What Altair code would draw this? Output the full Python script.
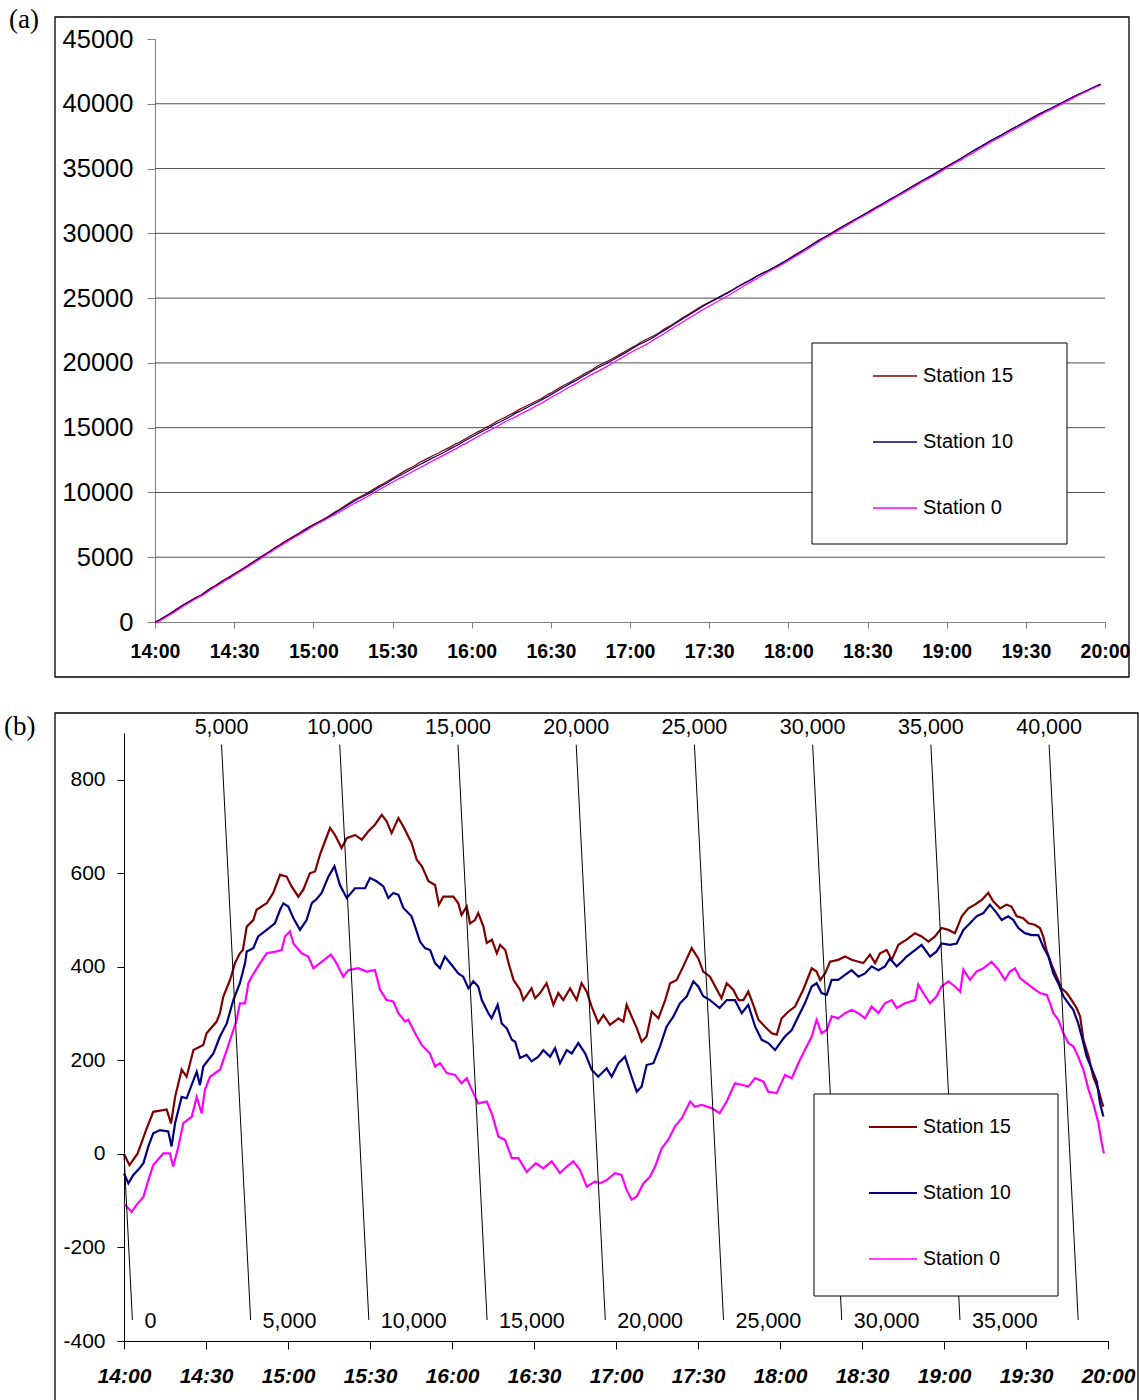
import altair as alt
import pandas as pd

# ---------------------------------------------------------------------------
# Data: oblique (detrended) cumulative counts, vehicles, read per station.
# Time is minutes after 14:00.
# ---------------------------------------------------------------------------
STATIONS = ["Station 15", "Station 10", "Station 0"]
COLORS = ["#800000", "#000080", "#FF00FF"]

S15_T = [0, 2, 5, 8, 10.7, 15.6, 17.2, 18.7, 21.1, 22.9,
         25.4, 29, 30.2, 33.9, 35.1, 36.3, 38.8, 40.6, 42.4, 43.5,
         44.9, 47.3, 48.5, 52.2, 54.6, 57.1, 59.5, 61.3, 63.8, 65.6,
         68, 69.9, 71.7, 73.5, 75.4, 77.2, 79.6, 81.5, 84.5, 87,
         89.4, 91.8, 94.3, 96.1, 97.9, 100.4, 102.2, 105.2, 107.1, 109,
         111.4, 113.8, 115.2, 116.8, 120.5, 122.3, 123.5, 125.4, 126.6, 128.4,
         129.6, 131.5, 132.7, 134.6, 136.4, 137.6, 139.5, 140.7, 142.5, 144.9,
         146.1, 149.1, 150.4, 152.2, 154.6, 157.1, 158.9, 160.7, 163.2, 165.6,
         167.4, 169.3, 171.1, 173.5, 175.4, 177.8, 180.9, 182.7, 183.9, 185.7,
         187.6, 189.4, 191.2, 193.1, 195.5, 198, 199.8, 202.2, 204.6, 207.7,
         210.1, 211.9, 214.4, 218.6, 220.5, 222.9, 224.8, 226.6, 228.4, 230.2,
         232.1, 234.5, 237, 238.8, 240.6, 243, 245.5, 248.5, 251.6, 253.4,
         254.7, 256.5, 258.3, 261.3, 263.8, 266.2, 268.7, 270.5, 272.9, 274.8,
         276.6, 279, 280.9, 283.3, 286.3, 289.4, 291.8, 294.3, 296.7, 299.1,
         301.6, 304, 306.5, 308.9, 311.3, 313.8, 316.2, 318, 320.5, 322.9,
         324.7, 326.6, 329, 330.9, 333.2, 335.1, 336.3, 337.5, 339.4, 341.2,
         343, 344.9, 346.7, 348.5, 349.8, 351, 352.9, 354.6, 356.5, 357.7,
         358.3]
S15_V = [0, -24, 1, 50, 90, 95, 65, 122, 180, 165,
         222, 233, 258, 283, 301, 336, 372, 408, 429, 436,
         486, 500, 522, 536, 558, 597, 593, 572, 550, 565,
         600, 604, 640, 668, 697, 682, 654, 675, 682, 672,
         690, 704, 725, 711, 686, 718, 700, 665, 629, 615,
         583, 575, 533, 550, 550, 536, 511, 529, 493, 500,
         515, 486, 451, 458, 429, 447, 436, 408, 372, 351,
         329, 354, 333, 344, 365, 319, 344, 329, 354, 329,
         365, 347, 315, 280, 297, 276, 290, 283, 319, 294,
         269, 240, 251, 304, 290, 329, 365, 372, 401, 440,
         418, 390, 379, 333, 365, 351, 329, 329, 347, 319,
         287, 272, 258, 255, 290, 304, 315, 351, 397, 390,
         372, 386, 411, 415, 422, 415, 411, 408, 426, 408,
         429, 436, 415, 447, 458, 472, 465, 454, 465, 483,
         479, 472, 508, 525, 533, 543, 558, 540, 525, 533,
         529, 508, 504, 493, 490, 483, 465, 436, 404, 379,
         354, 344, 329, 312, 294, 244, 208, 165, 137, 112,
         101]

S10_T = [0, 1.6, 3.4, 5.2, 7.1, 8.9, 10.7, 13.2, 16.2, 17.4,
         18.7, 21.1, 22.9, 26.6, 27.8, 29, 32.7, 35.1, 37.6, 40,
         42.4, 44.3, 44.9, 47.3, 49.1, 52.2, 55.2, 57.1, 58.3, 60.1,
         62, 64.4, 66.8, 68.7, 70.5, 72.3, 74.8, 77, 79, 81.5,
         84.5, 88.2, 90, 92.4, 94.9, 96.7, 98.5, 100.4, 102.2, 105.2,
         106.5, 108.3, 110.1, 112, 113.8, 115.6, 117.4, 119.9, 122.3, 124.1,
         126, 127.8, 129.6, 130.9, 133.3, 134.5, 136.7, 138.2, 140, 141.9,
         143.1, 144.9, 147.3, 149.1, 151.6, 153.4, 155.9, 157.7, 159.5, 162,
         163.8, 166.2, 168.7, 171.1, 173.5, 176.6, 178.4, 180.9, 183.3, 185.7,
         187.6, 189.4, 191.2, 193.7, 196.1, 198.5, 201, 203.4, 205.9, 208.3,
         210.1, 211.9, 214.4, 217.9, 220.5, 223.5, 226, 228.4, 230.9, 233.3,
         235.7, 238.2, 240, 241.8, 244.3, 246.7, 249.1, 251.6, 253.4, 255.2,
         257.1, 258.9, 261.3, 263.8, 266.2, 268.7, 271.1, 273.5, 276, 278.4,
         280.2, 282.7, 284.5, 286.3, 289.4, 291.8, 294.9, 297.3, 299.1, 302.2,
         304.6, 307.1, 309.5, 311.9, 314.4, 316.8, 319.3, 321.1, 323.5, 325.4,
         327.2, 329.6, 332.1, 334.5, 336.3, 338.2, 340, 341.8, 343.7, 345.5,
         347.3, 349.1, 350.4, 352.2, 354, 355.9, 357.1, 358.3]
S10_V = [-42, -63, -45, -34, -20, 16, 44, 51, 48, 16,
         66, 122, 119, 176, 147, 187, 215, 251, 279, 329,
         365, 408, 433, 440, 465, 479, 493, 522, 536, 529,
         504, 479, 500, 536, 545, 558, 593, 615, 575, 547,
         568, 568, 590, 583, 572, 547, 558, 554, 526, 508,
         486, 454, 440, 436, 408, 397, 422, 404, 386, 379,
         354, 369, 358, 329, 301, 290, 319, 279, 269, 244,
         240, 205, 212, 198, 208, 222, 208, 226, 194, 222,
         215, 237, 215, 180, 165, 183, 165, 194, 208, 165,
         133, 144, 190, 194, 230, 272, 294, 322, 337, 369,
         358, 337, 329, 312, 329, 329, 301, 319, 272, 244,
         237, 222, 237, 251, 265, 294, 322, 358, 365, 344,
         340, 372, 372, 383, 393, 379, 386, 401, 393, 401,
         418, 401, 411, 422, 436, 447, 422, 433, 450, 447,
         450, 479, 493, 508, 515, 533, 515, 500, 508, 500,
         483, 472, 468, 468, 443, 422, 386, 365, 337, 322,
         308, 279, 251, 208, 183, 155, 108, 80]

S0_T = [0, 2.8, 4.6, 7.1, 8.9, 10.7, 14.4, 16.8, 18, 19.9,
        21.7, 24.8, 26.6, 28.4, 29.6, 31.5, 35.1, 37.6, 40, 41.2,
        42.4, 44.3, 45.5, 46.7, 49.8, 52.2, 55.9, 57.7, 58.9, 60.7,
        62, 65, 67.4, 69.3, 71.7, 75.7, 77.7, 80.2, 82.1, 85.7,
        88.8, 91.8, 93.7, 96.1, 98.5, 100.4, 102.8, 104, 106.5, 108.9,
        111.9, 113.8, 115.6, 118.1, 121.1, 123.5, 125.4, 127.8, 129.6, 132.7,
        134.5, 137, 139.4, 141.9, 144.3, 147.3, 150.7, 153.4, 156.5, 159.5,
        162, 164.4, 166.8, 169.3, 172.3, 174.1, 176.6, 179.6, 182, 183.9,
        185.7, 187.6, 190, 192.4, 194.3, 196.7, 199.1, 201.6, 204, 207.1,
        208.9, 211.3, 215, 217.9, 220.5, 223.5, 226, 228.4, 230.9, 233.9,
        235.7, 238.8, 241.8, 244.3, 246.7, 249.1, 251.6, 253.4, 255.2, 257.1,
        258.9, 261.3, 263.8, 266.2, 268.7, 271.1, 273.5, 276, 278.4, 280.9,
        282.7, 285.7, 289.4, 290.6, 292.4, 294.9, 297.3, 299.1, 301.6, 304,
        305.9, 307.1, 309.5, 311.9, 314.4, 317.4, 319.9, 322.3, 324.1, 326,
        327.8, 330.2, 332.7, 335.1, 337.6, 338.8, 340, 341.8, 343.7, 345.5,
        347.3, 349.1, 351, 352.9, 354.6, 356.5, 357.7, 358.5]
S0_V = [-106, -124, -109, -92, -56, -24, 1, 1, -27, 16,
        66, 80, 122, 87, 137, 165, 180, 222, 265, 286,
        322, 322, 365, 379, 408, 429, 433, 436, 465, 476,
        450, 429, 422, 397, 408, 426, 408, 379, 393, 397,
        390, 393, 351, 329, 326, 301, 283, 287, 258, 233,
        215, 187, 194, 173, 169, 151, 162, 130, 108, 112,
        87, 37, 30, -9, -9, -38, -20, -31, -16, -41,
        -27, -16, -34, -70, -59, -63, -56, -41, -45, -77,
        -98, -91, -63, -49, -27, 12, 30, 59, 76, 112,
        101, 105, 98, 87, 112, 151, 148, 144, 162, 155,
        133, 130, 169, 162, 194, 222, 251, 287, 258, 265,
        294, 290, 301, 308, 301, 290, 315, 301, 322, 329,
        312, 322, 329, 362, 344, 322, 337, 358, 369, 358,
        347, 394, 372, 390, 397, 411, 394, 372, 390, 397,
        376, 365, 354, 344, 340, 322, 301, 287, 258, 237,
        230, 208, 180, 137, 108, 66, 23, 1]

# background flow removed in the oblique view (vehicles per minute)
Q0 = 115.6

TIME_TICKS = list(range(0, 361, 30))
COUNT_TICKS = list(range(0, 45001, 5000))
GRID_COUNTS = list(range(5000, 40001, 5000))
OBLIQUE_TICKS = list(range(-400, 801, 200))
ISO_COUNTS = list(range(0, 40001, 5000))
ISO_TOP, ISO_BOTTOM = 875, -355

# ---------------------------------------------------------------------------
# Tables
# ---------------------------------------------------------------------------
rows = []
for name, ts, vs in zip(STATIONS, [S15_T, S10_T, S0_T], [S15_V, S10_V, S0_V]):
    for t, v in zip(ts, vs):
        rows.append({"station": name, "t": t, "oblique": v, "count": v + Q0 * t})
series = pd.DataFrame(rows)

grid_df = pd.DataFrame({"count": GRID_COUNTS, "t0": 0, "t1": 360})

iso_rows, top_rows, bottom_rows = [], [], []
for n in ISO_COUNTS:
    v_top = min(ISO_TOP, n)
    t_top = (n - v_top) / Q0
    t_bot = (n - ISO_BOTTOM) / Q0
    iso_rows += [{"n": n, "t": t_top, "v": v_top}, {"n": n, "t": t_bot, "v": ISO_BOTTOM}]
    if n > 0:
        top_rows.append({"t": t_top, "v": v_top, "label": f"{n:,}"})
    if n < ISO_COUNTS[-1]:
        bottom_rows.append({"t": t_bot, "v": ISO_BOTTOM, "label": f"{n:,}"})
iso_df = pd.DataFrame(iso_rows)
top_df = pd.DataFrame(top_rows)
bottom_df = pd.DataFrame(bottom_rows)

one = pd.DataFrame({"k": [0]})

W, H = 1139, 1400
SANS = "Liberation Sans"
TIME_LABEL = "(14 + floor(datum.value / 60)) + ':' + (datum.value % 60 == 0 ? '00' : '30')"

color = alt.Color("station:N", scale=alt.Scale(domain=STATIONS, range=COLORS), legend=None)

# ---------------------------------------------------------------------------
# Panel (a): cumulative counts
# ---------------------------------------------------------------------------
xA = alt.Scale(domain=[0, 360], range=[155, 1105], nice=False, zero=False)
yA = alt.Scale(domain=[0, 45000], range=[622, 39], nice=False)
xA_axis = alt.Axis(orient="bottom", offset=622 - H, values=TIME_TICKS, labelExpr=TIME_LABEL,
                   title=None, grid=False, domainColor="#808080", tickColor="#808080",
                   tickSize=6, labelFont=SANS, labelFontSize=19.5, labelFontWeight="bold",
                   labelColor="black", labelPadding=14, labelFlush=False, labelOverlap=False)
yA_axis = alt.Axis(orient="left", offset=-155, values=COUNT_TICKS, format="d",
                   title=None, grid=False, domainColor="#808080", tickColor="#808080",
                   tickSize=8, labelFont=SANS, labelFontSize=25.5, labelColor="black",
                   labelPadding=14, labelFlush=False, labelOverlap=False)

gridA = alt.Chart(grid_df).mark_rule(color="#505050", strokeWidth=1).encode(
    x=alt.X("t0:Q", scale=xA, axis=xA_axis), x2="t1:Q",
    y=alt.Y("count:Q", scale=yA, axis=yA_axis))
linesA = alt.Chart(series).mark_line(strokeWidth=1.2).encode(
    x=alt.X("t:Q", scale=xA, axis=xA_axis),
    y=alt.Y("count:Q", scale=yA, axis=yA_axis),
    color=color)
panelA = alt.layer(gridA, linesA)

# ---------------------------------------------------------------------------
# Panel (b): oblique counts with iso-count lines
# ---------------------------------------------------------------------------
xB = alt.Scale(domain=[0, 360], range=[124, 1108], nice=False, zero=False)
yB = alt.Scale(domain=[-400, 900], range=[1341, 733], nice=False, zero=False)
xB_axis = alt.Axis(orient="bottom", offset=1341 - H, values=TIME_TICKS, labelExpr=TIME_LABEL,
                   title=None, grid=False, domainColor="black", tickColor="black",
                   tickSize=8, labelFont=SANS, labelFontSize=21, labelFontWeight="bold",
                   labelFontStyle="italic", labelColor="black", labelPadding=16,
                   labelFlush=False, labelOverlap=False)
yB_axis = alt.Axis(orient="left", offset=-124, values=OBLIQUE_TICKS, labelExpr="'' + datum.value",
                   title=None, grid=False, domainColor="black", tickColor="black",
                   tickSize=7, labelFont=SANS, labelFontSize=21, labelColor="black",
                   labelPadding=12, labelFlush=False, labelOverlap=False)

linesB = alt.Chart(series).mark_line().encode(
    x=alt.X("t:Q", scale=xB, axis=xB_axis),
    y=alt.Y("oblique:Q", scale=yB, axis=yB_axis),
    color=color,
    strokeWidth=alt.StrokeWidth("station:N",
                                scale=alt.Scale(domain=STATIONS, range=[2.2, 2.2, 1.2]),
                                legend=None))
isoB = alt.Chart(iso_df).mark_line(color="black", strokeWidth=1).encode(
    x=alt.X("t:Q", scale=xB, axis=xB_axis),
    y=alt.Y("v:Q", scale=yB, axis=yB_axis),
    detail="n:N")
topB = alt.Chart(top_df).mark_text(font=SANS, fontSize=21.5, align="center",
                                   baseline="middle", dy=-17, color="black").encode(
    x=alt.X("t:Q", scale=xB, axis=xB_axis),
    y=alt.Y("v:Q", scale=yB, axis=yB_axis),
    text="label:N")
bottomB = alt.Chart(bottom_df).mark_text(font=SANS, fontSize=21.5, align="left",
                                         baseline="middle", dx=12, dy=2, color="black").encode(
    x=alt.X("t:Q", scale=xB, axis=xB_axis),
    y=alt.Y("v:Q", scale=yB, axis=yB_axis),
    text="label:N")
panelB = alt.layer(linesB, isoB, topB, bottomB)


# ---------------------------------------------------------------------------
# Frames, panel letters and boxed legends
# ---------------------------------------------------------------------------
def box(x0, y0, x1, y1, fill_opacity, width):
    return alt.Chart(one).mark_rect(fill="white", fillOpacity=fill_opacity, stroke="black",
                                    strokeWidth=width).encode(
        x=alt.value(x0), x2=alt.value(x1), y=alt.value(y0), y2=alt.value(y1))


def legend(x0, y0, x1, y1, line_x0, line_x1, text_x, first_y, step, font_size, widths):
    layers = [box(x0, y0, x1, y1, 1, 1)]
    for i, (name, col, w) in enumerate(zip(STATIONS, COLORS, widths)):
        yy = round(first_y + i * step)
        entry = pd.DataFrame({"station": [name]})
        layers.append(alt.Chart(entry).mark_rule(stroke=col, strokeWidth=w).encode(
            x=alt.value(line_x0), x2=alt.value(line_x1), y=alt.value(yy)))
        layers.append(alt.Chart(entry).mark_text(font=SANS, fontSize=font_size, align="left",
                                                 baseline="middle", color="black").encode(
            x=alt.value(text_x), y=alt.value(yy), text="station:N"))
    return layers


def letter(txt, x, y):
    return alt.Chart(one).mark_text(font="Liberation Serif", fontSize=27, align="left",
                                    baseline="middle", color="black").encode(
        x=alt.value(x), y=alt.value(y), text=alt.value(txt))


frameA = box(55, 17, 1129, 677, 0, 1.3)
frameB = box(55, 713, 1138, 1420, 0, 1.3)
legendA = legend(812, 343, 1067, 544, 873, 917, 923, 376.5, 65.5, 20, [1.3, 1.3, 1.3])
legendB = legend(814, 1094, 1058, 1296, 869, 917, 923, 1127, 66, 19.5, [2, 2, 1.3])

chart = alt.layer(
    frameA, frameB, panelA, *legendA, panelB, *legendB,
    letter("(a)", 9, 20), letter("(b)", 4, 727),
).resolve_scale(
    x="independent", y="independent"
).properties(
    width=W, height=H, padding=0,
    autosize=alt.AutoSizeParams(type="none"),
).configure_view(stroke=None)

chart.save("out.html", embed_options={"renderer": "svg", "actions": False})
